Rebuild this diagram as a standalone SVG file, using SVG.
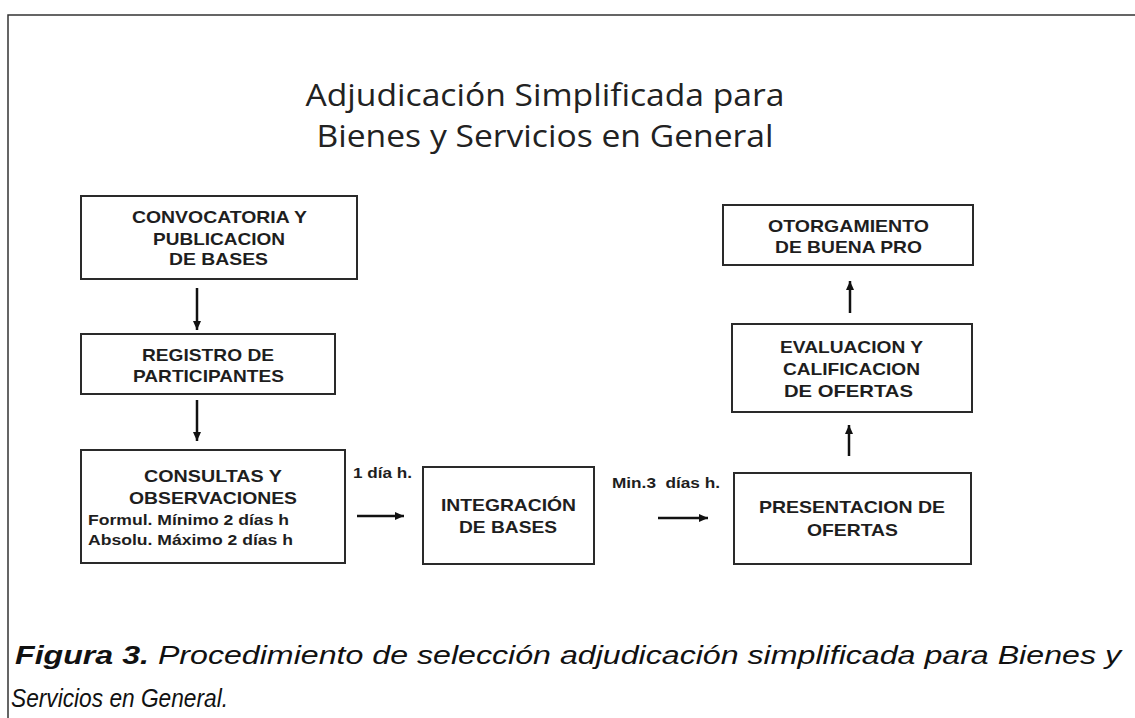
<svg xmlns="http://www.w3.org/2000/svg" width="1135" height="718" viewBox="0 0 1135 718">
<style>
.box{fill:#fff;stroke:#2a2a2a;stroke-width:2}
.t{font-family:"Liberation Sans",Arial,sans-serif;font-weight:bold;font-size:17px;fill:#1e1e1e;text-anchor:middle}
.s{font-family:"Liberation Sans",Arial,sans-serif;font-weight:bold;font-size:14px;fill:#1e1e1e}
.lbl{font-family:"Liberation Sans",Arial,sans-serif;font-weight:bold;font-size:14px;fill:#1e1e1e}
.title{font-family:"Open Sans","Noto Sans",sans-serif;font-size:31px;fill:#222;text-anchor:middle}
.cap{font-family:"Liberation Sans",Arial,sans-serif;font-style:italic;font-size:26px;fill:#111}
.arr{stroke:#111;stroke-width:2.5;fill:none;marker-end:url(#ah)}
</style>
<defs>
<marker id="ah" markerUnits="userSpaceOnUse" markerWidth="10" markerHeight="10" refX="9" refY="5" orient="auto">
<path d="M0,1 L9,5 L0,9 Z" fill="#111"/>
</marker>
</defs>
<rect width="1135" height="718" fill="#fff"/>
<path d="M8,718 V15 H1135" fill="none" stroke="#333" stroke-width="1.5"/>
<g id="title">
<text class="title" x="545" y="106" textLength="479" lengthAdjust="spacingAndGlyphs">Adjudicación Simplificada para</text>
<text class="title" x="545" y="147" textLength="457" lengthAdjust="spacingAndGlyphs">Bienes y Servicios en General</text>
</g>
<g id="n1">
<rect class="box" x="81" y="196" width="276" height="83"/>
<text class="t" x="219.5" y="223" textLength="175" lengthAdjust="spacingAndGlyphs">CONVOCATORIA Y</text>
<text class="t" x="219" y="245" textLength="132" lengthAdjust="spacingAndGlyphs">PUBLICACION</text>
<text class="t" x="218.5" y="265" textLength="99" lengthAdjust="spacingAndGlyphs">DE BASES</text>
</g>
<g id="n2">
<rect class="box" x="81" y="334" width="254" height="60"/>
<text class="t" x="208" y="361" textLength="132" lengthAdjust="spacingAndGlyphs">REGISTRO DE</text>
<text class="t" x="208.5" y="382" textLength="151" lengthAdjust="spacingAndGlyphs">PARTICIPANTES</text>
</g>
<g id="n3">
<rect class="box" x="81" y="450" width="264" height="113"/>
<text class="t" x="213" y="482" textLength="138" lengthAdjust="spacingAndGlyphs">CONSULTAS Y</text>
<text class="t" x="213" y="504" textLength="168" lengthAdjust="spacingAndGlyphs">OBSERVACIONES</text>
<text class="s" x="88" y="525" textLength="201" lengthAdjust="spacingAndGlyphs">Formul. Mínimo 2 días h</text>
<text class="s" x="88" y="545" textLength="205" lengthAdjust="spacingAndGlyphs">Absolu. Máximo 2 días h</text>
</g>
<g id="n4">
<rect class="box" x="423" y="467" width="171" height="97"/>
<text class="t" x="508.5" y="511" textLength="135" lengthAdjust="spacingAndGlyphs">INTEGRACIÓN</text>
<text class="t" x="508" y="533" textLength="98" lengthAdjust="spacingAndGlyphs">DE BASES</text>
</g>
<g id="n5">
<rect class="box" x="734" y="473" width="237" height="91"/>
<text class="t" x="852" y="513" textLength="186" lengthAdjust="spacingAndGlyphs">PRESENTACION DE</text>
<text class="t" x="852.5" y="536" textLength="91" lengthAdjust="spacingAndGlyphs">OFERTAS</text>
</g>
<g id="n6">
<rect class="box" x="732" y="324" width="240" height="88"/>
<text class="t" x="851.5" y="353" textLength="143" lengthAdjust="spacingAndGlyphs">EVALUACION Y</text>
<text class="t" x="851.5" y="375" textLength="137" lengthAdjust="spacingAndGlyphs">CALIFICACION</text>
<text class="t" x="848.5" y="397" textLength="129" lengthAdjust="spacingAndGlyphs">DE OFERTAS</text>
</g>
<g id="n7">
<rect class="box" x="723" y="205" width="250" height="60"/>
<text class="t" x="848.5" y="232" textLength="161" lengthAdjust="spacingAndGlyphs">OTORGAMIENTO</text>
<text class="t" x="848.5" y="253" textLength="147" lengthAdjust="spacingAndGlyphs">DE BUENA PRO</text>
</g>
<g id="connectors">
<line class="arr" x1="197" y1="288" x2="197" y2="330"/>
<line class="arr" x1="197" y1="400" x2="197" y2="441"/>
<line class="arr" x1="357" y1="516" x2="404" y2="516"/>
<line class="arr" x1="658" y1="518" x2="708" y2="518"/>
<line class="arr" x1="849" y1="456" x2="849" y2="425"/>
<line class="arr" x1="850" y1="313" x2="850" y2="281"/>
<text class="lbl" x="353" y="478" textLength="59" lengthAdjust="spacingAndGlyphs">1 día h.</text>
<text class="lbl" x="612" y="488" textLength="108" lengthAdjust="spacingAndGlyphs" xml:space="preserve">Min.3  días h.</text>
</g>
<g id="caption">
<text class="cap" x="15" y="664" textLength="1106" lengthAdjust="spacingAndGlyphs"><tspan font-weight="bold">Figura 3.</tspan> Procedimiento de selección adjudicación simplificada para Bienes y</text>
<text class="cap" x="11" y="707" textLength="217" lengthAdjust="spacingAndGlyphs">Servicios en General.</text>
</g>
</svg>
